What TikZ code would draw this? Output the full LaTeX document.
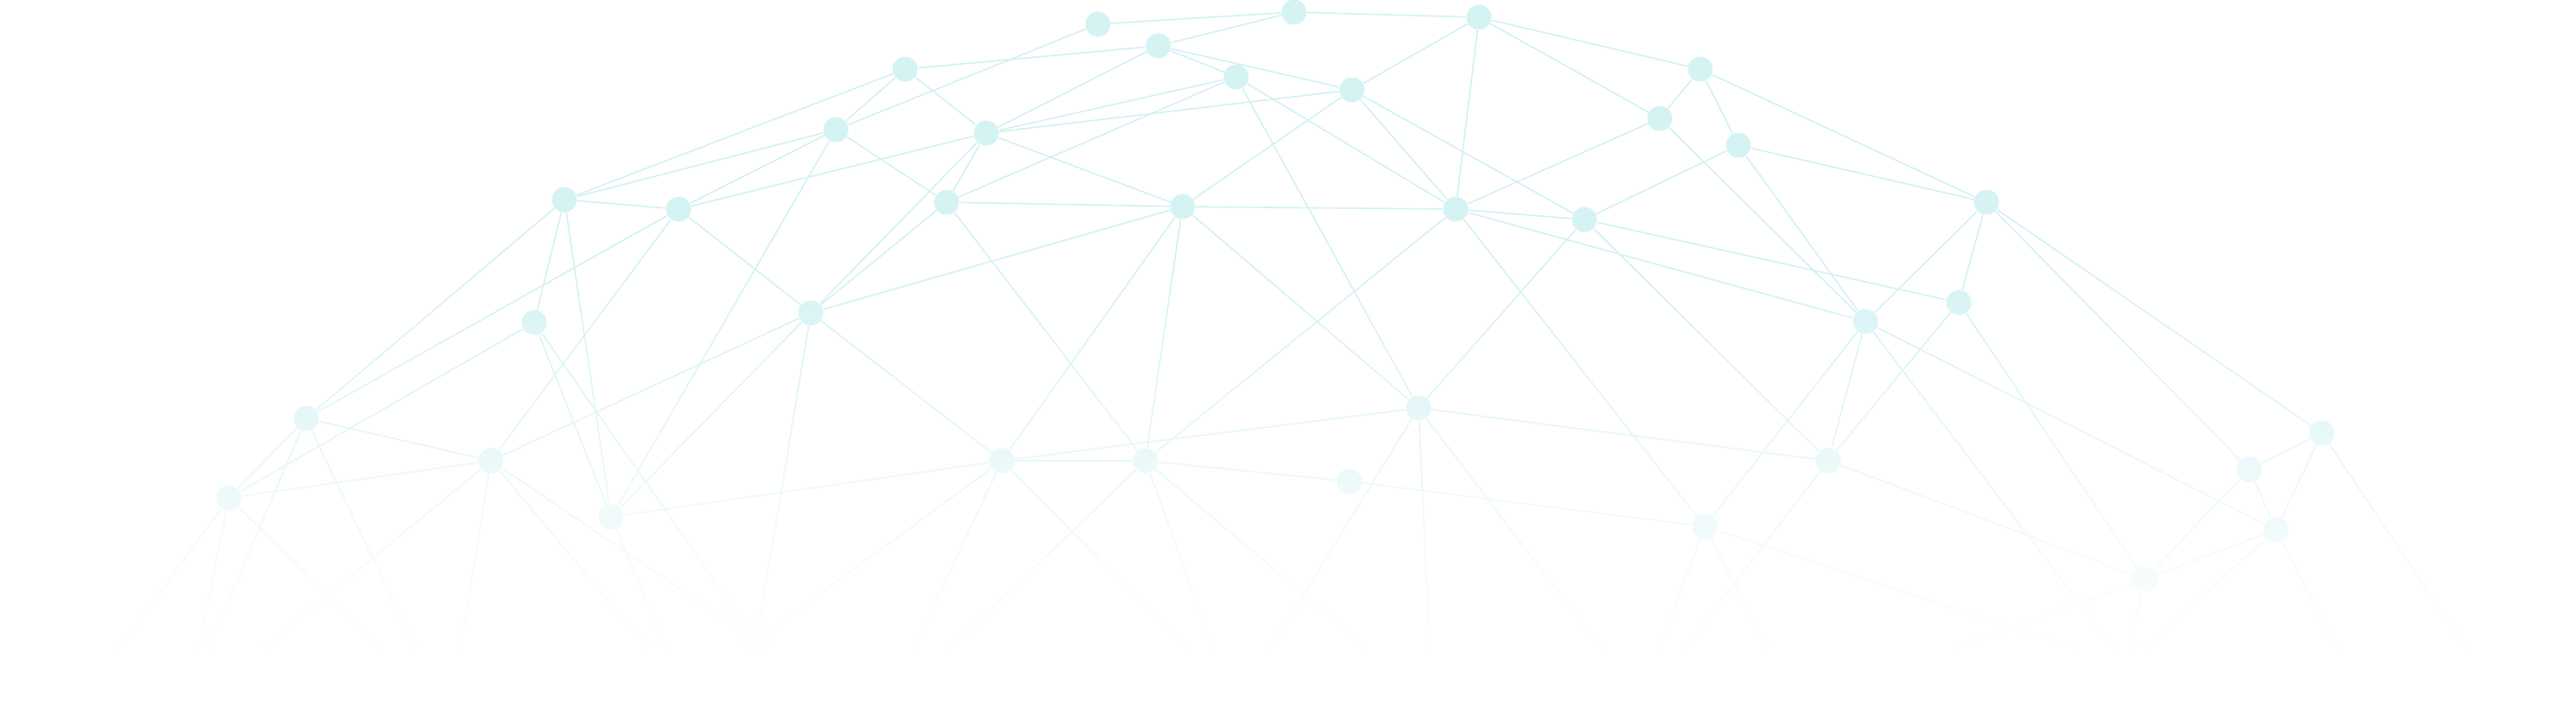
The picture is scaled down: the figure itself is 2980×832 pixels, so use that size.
\documentclass[tikz,border=0pt]{standalone}
\usetikzlibrary{fadings}
\definecolor{linecol}{RGB}{210,241,243}
\definecolor{nodecol}{RGB}{214,243,244}
\tikzfading[name=fadedown, top color=transparent!100, bottom color=transparent!0]
\begin{document}
\begin{tikzpicture}[x=0.01cm,y=-0.01cm,
  dot/.style={circle,fill=nodecol,minimum size=2.9mm,inner sep=0pt},
  link/.style={draw=linecol,line width=0.45pt}]
\useasboundingbox (0,0) rectangle (2980,832);
\foreach \n/\px/\py in {1/1270/28, 2/1497/14, 3/1711/20, 4/1340/53, 5/1047/80,
  6/1967/80, 7/1430/89, 8/1564/104, 9/967/150, 10/1141/154, 11/1920/137,
  12/2011/168, 13/653/231, 14/785/242, 15/1095/234, 16/1368/239, 17/1684/242,
  18/1833/254, 19/2298/234, 20/2266/350, 21/2158/372, 22/938/362, 23/618/373,
  24/354/484, 25/568/533, 26/265/576, 27/707/598, 28/1159/533, 29/1325/533,
  30/1641/472, 31/1561/557, 32/1972/609, 33/2115/533, 34/2686/501, 35/2602/543,
  36/2633/613, 37/2481/670, 38/875/741}
  \node[dot] (n\n) at (\px,\py) {};
\foreach \n/\px/\py in {1/138/750, 2/230/750, 3/443/750, 4/241/750, 5/481/750,
  6/305/750, 7/533/750, 8/750/750, 9/771/750, 10/1057/750, 11/1375/750,
  12/1100/750, 13/1404/750, 14/1582/750, 15/1470/750, 16/1654/750, 17/1852/750,
  18/1920/750, 19/2045/750, 20/2400/750, 21/1949/750, 22/2445/750, 23/2260/750,
  24/2463/750, 25/2480/750, 26/2703/750, 27/2853/750}
  \coordinate (e\n) at (\px,\py);
\foreach \a/\b in {n1/n2, n1/n9, n2/n3, n2/n4, n3/n6, n3/n11, n3/n8, n3/n17,
  n4/n5, n4/n8, n4/n7, n4/n10, n5/n13, n5/n9, n5/n10, n6/n11, n6/n12, n6/n19,
  n7/n10, n7/n15, n7/n17, n7/n30, n8/n10, n8/n16, n8/n17, n8/n18, n9/n13, n9/n14,
  n9/n15, n9/n27, n10/n14, n10/n15, n10/n16, n10/n22, n11/n17, n11/n21, n12/n18,
  n12/n19, n12/n21, n13/n14, n13/n24, n13/n23, n13/n27, n14/n22, n14/n24, n14/n25,
  n15/n16, n15/n22, n15/n29, n16/n17, n16/n22, n16/n28, n16/n29, n16/n30, n17/n18,
  n17/n21, n17/n29, n17/n32, n18/n20, n18/n30, n18/n33, n19/n20, n19/n21, n19/n34,
  n19/n35, n20/n33, n20/n37, n21/n32, n21/n33, n21/n36, n21/e22, n22/n25, n22/n27,
  n22/n28, n22/n38, n23/n26, n23/n27, n23/n38, n24/n25, n24/n26, n24/e4, n24/e5,
  n25/n26, n25/n38, n25/e6, n25/e7, n25/e8, n26/e1, n26/e2, n26/e3, n27/n28,
  n27/e9, n28/n29, n28/n30, n28/n38, n28/e10, n28/e11, n29/n31, n29/e12, n29/e13,
  n29/e14, n30/n33, n30/e15, n30/e16, n30/e17, n31/n32, n32/e18, n32/e19, n32/e20,
  n33/n37, n33/e21, n34/n35, n34/n36, n34/e27, n35/n36, n35/n37, n36/n37, n36/e25,
  n36/e26, n37/e23, n37/e24}
  \draw[link] (\a) -- (\b);
\fill[white, path fading=fadedown] (0,300) rectangle (2980,760);
\fill[white] (0,760) rectangle (2980,832);
\end{tikzpicture}
\end{document}
